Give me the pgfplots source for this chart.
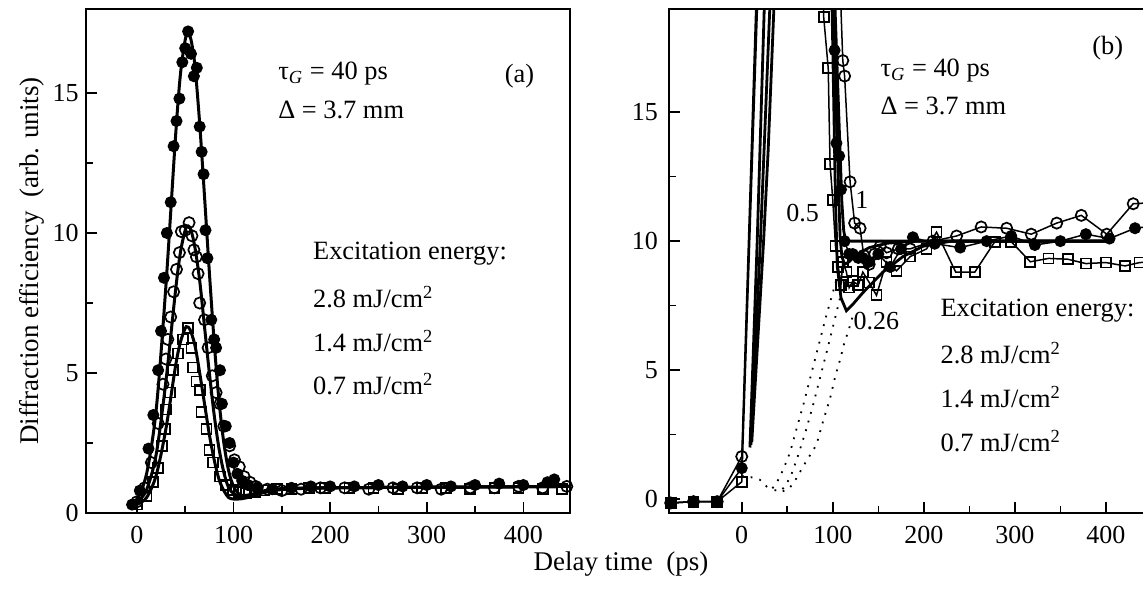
\documentclass[border=0pt]{standalone}
\usepackage{fontspec}
\setmainfont{Liberation Serif}
\usepackage{pgfplots}
\pgfplotsset{compat=1.18}

\pgfplotsset{
  panel/.style={scale only axis, height=252pt,
    axis line style={line width=0.8pt},
    tick align=inside, xtick pos=left, ytick pos=left,
    major tick length=5.5pt, minor tick length=3.5pt,
    every tick/.style={black, line width=0.8pt},
    ticklabel style={font=\fontsize{13}{15}\selectfont},
    /pgf/number format/assume math mode=true,
    xtick={0,100,200,300,400}, minor xtick={50,150,250,350},
    ytick={0,5,10,15}, minor ytick={2.5,7.5,12.5},
    xticklabel style={yshift=-3pt},
  },
  fitc/.style={black, line width=1.5pt, smooth},
  dfill/.style={mark=*, mark size=2.7pt, mark options={fill=black, line width=0.6pt}},
  dcirc/.style={mark=o, mark size=2.8pt, mark options={fill=white, line width=0.85pt}},
  dsq/.style={mark=square, mark size=2.5pt, mark options={fill=white, line width=0.85pt}},
}
\tikzset{ann/.style={font=\fontsize{13.2}{16}\selectfont, inner sep=0pt}}

\begin{document}
\begin{tikzpicture}
\useasboundingbox (-42.85pt,-39pt) rectangle (528.65pt,256.5pt);

% ---------------- (a) ----------------
\begin{axis}[panel, at={(0pt,0pt)}, anchor=south west, width=242pt,
  xmin=-53, xmax=448, ymin=0, ymax=18]
\addplot[fitc] coordinates {(-8,0.3) (0,0.5) (10,1.4) (20,3.7) (30,8.1) (40,13.45) (45,15.65) (50,16.9) (53,17.15) (56,16.9) (60,16.0) (65,13.9) (70,11.3) (75,8.6) (80,6.1) (85,4.0) (90,2.5) (95,1.5) (100,0.95) (105,0.7) (110,0.62) (120,0.68) (130,0.78) (140,0.85) (160,0.88) (200,0.9) (300,0.92) (450,0.95)};
\addplot[fitc] coordinates {(-8,0.28) (0,0.38) (10,0.83) (20,2.1) (30,4.7) (40,7.95) (45,9.3) (50,10.1) (53,10.25) (56,10.1) (60,9.5) (65,8.3) (70,6.65) (75,5.0) (80,3.5) (85,2.3) (90,1.45) (95,0.9) (100,0.7) (105,0.6) (110,0.58) (120,0.65) (130,0.75) (140,0.82) (160,0.87) (200,0.9) (300,0.92) (450,0.95)};
\addplot[fitc] coordinates {(-8,0.25) (0,0.31) (10,0.55) (20,1.35) (30,3.0) (40,5.25) (45,6.1) (50,6.6) (52,6.65) (55,6.55) (60,6.0) (65,5.0) (70,3.9) (75,2.8) (80,1.9) (85,1.2) (90,0.8) (95,0.55) (100,0.5) (105,0.5) (110,0.52) (120,0.6) (130,0.72) (140,0.8) (160,0.86) (200,0.9) (300,0.92) (450,0.95)};
% 0.7 mJ/cm2
\addplot[only marks, dsq] coordinates {(0,0.3) (10,0.6) (17,1.1) (22,1.6) (26,2.4) (29,3.0) (30,3.7) (34,4.3) (37.5,5.1) (42.7,5.7) (48,6.2) (53,6.6) (56.5,5.9) (58,5.2) (61.6,4.7) (65,4.4) (66.8,3.6) (72,3.0) (75,2.25) (79,1.8) (86,1.3) (92,1.0) (99.5,0.82) (106,0.75) (113,0.72) (122,0.75) (132,0.8) (145,0.85) (160,0.85) (178,0.9) (195,0.9) (220,0.9) (245,0.9) (270,0.85) (295,0.9) (320,0.9) (345,0.85) (370,0.9) (395,0.9) (420,0.85) (440,0.85)};
% 1.4 mJ/cm2
\addplot[only marks, dcirc] coordinates {(0,0.4) (8,0.9) (15,1.8) (22,3.2) (27,4.6) (30,5.5) (32,6.2) (35,7.0) (38,7.9) (41,8.7) (44,9.3) (46,10.05) (50,10.1) (54,10.37) (57,9.9) (59,9.4) (61.6,9.15) (63.3,8.55) (65,7.5) (70,6.9) (73.7,5.9) (78,4.9) (82,4.3) (86,3.9) (90,3.1) (96,2.4) (101,1.9) (106,1.65) (111,1.3) (117,1.1) (123,0.95) (135,0.85) (150,0.8) (170,0.85) (190,0.9) (215,0.9) (240,0.85) (265,0.9) (290,0.9) (315,0.85) (345,0.9) (370,0.9) (395,0.95) (420,0.9) (445,0.95)};
% 2.8 mJ/cm2
\addplot[only marks, dfill] coordinates {(-5,0.3) (3,0.8) (12,2.3) (17,3.5) (22,5.1) (25,6.5) (28,8.4) (31,10.0) (35,11.1) (38,13.1) (41,14.0) (44,14.8) (47,16.1) (50,16.6) (53,17.2) (56,16.4) (59,15.6) (62,15.9) (65,13.8) (67,12.9) (69,12.1) (71,10.1) (73,9.1) (77,6.9) (80,6.2) (82,5.9) (86,5.1) (88,3.9) (92,3.1) (96,2.5) (100,1.8) (104,1.4) (109,1.15) (115,1.0) (125,0.9) (140,0.85) (160,0.9) (180,0.95) (200,0.95) (225,0.95) (250,1.0) (275,0.95) (300,1.0) (325,0.95) (350,1.0) (375,1.05) (400,1.0) (425,1.1) (432,1.2)};

\node[ann, anchor=west] at (axis cs:146,15.7) {τ\textsubscript{\textit{G}} = 40 ps};
\node[ann, anchor=west] at (axis cs:146,14.4) {Δ = 3.7 mm};
\node[ann] at (axis cs:396,15.6) {(a)};
\node[ann, anchor=west] at (axis cs:182,9.25) {Excitation energy:};
\node[ann, anchor=west] at (axis cs:182,7.7) {2.8 mJ/cm\textsuperscript{2}};
\node[ann, anchor=west] at (axis cs:182,6.15) {1.4 mJ/cm\textsuperscript{2}};
\node[ann, anchor=west] at (axis cs:182,4.6) {0.7 mJ/cm\textsuperscript{2}};
\end{axis}

% ---------------- (b) ----------------
\begin{axis}[panel, at={(291.6pt,0pt)}, anchor=south west, width=241.25pt,
  xmin=-80, xmax=450, ymin=-0.54, ymax=19,
  yticklabel style={xshift=-2pt}]
% dotted extrapolations
\addplot[black, line width=0.9pt, dash pattern=on 0.9pt off 3.6pt] coordinates {(0,0.9) (10,0.85) (20,0.75) (27,0.5) (32,0.35) (38,0.6) (45,1.1) (53,1.8) (60,2.7) (68,3.7) (76,4.8) (84,5.9) (92,7.0) (100,8.0) (107,8.9)};
\addplot[black, line width=0.9pt, dash pattern=on 0.9pt off 3.6pt] coordinates {(36,0.35) (42,0.3) (48,0.5) (55,1.0) (62,1.7) (70,2.6) (78,3.6) (86,4.7) (94,5.8) (101,6.8) (108,7.8) (113,8.6)};
\addplot[black, line width=0.9pt, dash pattern=on 0.9pt off 3.6pt] coordinates {(45,0.3) (52,0.4) (60,0.8) (68,1.3) (75,1.7) (82,2.1) (90,3.1) (97,3.9) (103,4.8) (108,5.4) (113,6.1) (117,6.5) (122,7.1)};
% fits: 1, 0.5, 0.26
\addplot[black, line width=1.4pt] coordinates {(9,2.0) (11,4) (14,7) (17,10) (20,13.5) (23,17) (26,20.5) (27,21.5) (100,21.5) (102,19.5) (105,16.5) (108,13.5) (110,11.5) (112,10.4) (114,10.05) (120,10.0) (400,10.0)};
\addplot[black, line width=1.4pt] coordinates {(10,2.1) (12.5,4) (16.5,7) (20.5,10) (24.5,13.5) (28.5,17) (32.5,20.5) (33.5,21.5) (99,21.5) (101,19.5) (103.5,16) (106,12.5) (108,10.2) (110,9.4) (113,9.1) (118,9.2) (125,9.45) (140,9.75) (160,9.92) (190,10.0) (400,10.0)};
\addplot[black, line width=1.4pt] coordinates {(11,2.2) (14,4) (19,7) (24,10) (29,13.5) (33,17) (37,20.5) (38,21.5) (97,21.5) (99,19.5) (101,15.5) (103,11.5) (105,9.0) (109,7.8) (115,7.3) (122,7.55) (133,8.0) (155,8.8) (177,9.4) (199,9.8) (230,10.0) (400,10.0)};
% 0.7 mJ/cm2
\addplot[black, line width=0.75pt, dsq] coordinates {(-78,-0.15) (-53,-0.1) (-27,-0.1) (0,0.67) (20,22) (89,22) (90,18.7) (95,16.7) (97,13.0) (100,11.6) (103,9.8) (106,9.0) (109,8.3) (111,9.2) (115,8.8) (118,8.2) (122,8.45) (128,8.3) (133,8.8) (140,8.4) (148,7.9) (159,9.2) (170,8.85) (185,9.4) (203,9.7) (214,10.35) (235,8.8) (256,8.8) (278,9.98) (296,9.98) (317,9.2) (337,9.33) (358,9.3) (378,9.13) (400,9.17) (421,9.04) (437,9.17) (455,9.2)};
% 1.4 mJ/cm2
\addplot[black, line width=0.75pt, dcirc] coordinates {(-78,-0.15) (-53,-0.1) (-27,-0.1) (0,1.65) (18,22) (106,22) (111,17.0) (113,16.4) (119,12.3) (124,10.7) (130,10.5) (134,9.45) (140,9.1) (146,9.5) (152,9.8) (159,9.55) (172,9.7) (185,9.7) (210,10.0) (236,10.2) (263,10.55) (291,10.5) (318,10.27) (346,10.7) (373,11.0) (401,10.27) (430,11.45) (455,11.5)};
% 2.8 mJ/cm2
\addplot[black, line width=0.75pt, dfill] coordinates {(-78,-0.15) (-53,-0.1) (-27,-0.1) (0,1.2) (19,22) (101,22) (102,17.4) (104,13.8) (107,13.3) (109,12.0) (113,10.0) (118,9.5) (122,9.5) (128,9.35) (133,9.35) (140,9.2) (150,9.5) (163,9.0) (175,9.7) (188,10.15) (212,9.9) (240,9.75) (269,10.0) (296,10.2) (322,9.85) (350,10.0) (378,10.27) (404,10.1) (432,10.5) (455,10.6)};

\node[ann, font=\fontsize{13}{15}\selectfont] at (axis cs:67,11.1) {0.5};
\node[ann, font=\fontsize{13}{15}\selectfont] at (axis cs:132,11.6) {1};
\node[ann, font=\fontsize{13}{15}\selectfont] at (axis cs:148,6.9) {0.26};
\node[ann, anchor=west] at (axis cs:152,16.6) {τ\textsubscript{\textit{G}} = 40 ps};
\node[ann, anchor=west] at (axis cs:152,15.25) {Δ = 3.7 mm};
\node[ann] at (axis cs:402,17.5) {(b)};
\node[ann, anchor=west] at (axis cs:218,7.3) {Excitation energy:};
\node[ann, anchor=west] at (axis cs:218,5.65) {2.8 mJ/cm\textsuperscript{2}};
\node[ann, anchor=west] at (axis cs:218,3.95) {1.4 mJ/cm\textsuperscript{2}};
\node[ann, anchor=west] at (axis cs:218,2.25) {0.7 mJ/cm\textsuperscript{2}};
\end{axis}

\node[rotate=90, font=\fontsize{13.5}{16}\selectfont] at (-27pt,126pt) {Diffraction efficiency\ \ (arb. units)};
\node[font=\fontsize{13.5}{16}\selectfont] at (267.6pt,-25.5pt) {Delay time\ \ (ps)};
\end{tikzpicture}
\end{document}
